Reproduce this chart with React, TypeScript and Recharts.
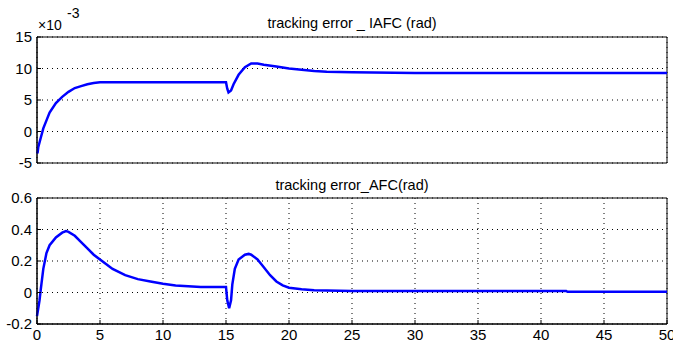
import { LineChart, Line, XAxis, YAxis, CartesianGrid, ReferenceArea } from "recharts";

// time (s) and tracking error of the IAFC controller, in units of 1e-3 rad
const iafcTime = [0, 0.05, 0.1, 0.3, 0.5, 0.8, 1, 1.5, 2, 2.5, 3, 3.5, 4, 4.5, 5, 10, 15, 15.1, 15.2, 15.4, 15.6, 16, 16.5, 17, 17.5, 18, 19, 20, 21, 22, 23, 25, 30, 40, 50];
const iafcError = [-3.5, -3.3, -2.5, -1, 0.5, 2, 3, 4.5, 5.5, 6.3, 6.9, 7.2, 7.5, 7.7, 7.8, 7.8, 7.8, 6.8, 6.2, 6.5, 7.5, 9, 10.2, 10.8, 10.8, 10.6, 10.3, 10, 9.8, 9.6, 9.5, 9.4, 9.3, 9.3, 9.3];

// time (s) and tracking error of the AFC controller, rad
const afcTime = [0, 0.1, 0.2, 0.3, 0.5, 0.75, 1, 1.5, 2, 2.3, 2.5, 3, 3.5, 4, 4.5, 5, 6, 7, 8, 9, 10, 11, 12, 13, 14, 15, 15.1, 15.25, 15.4, 15.5, 15.7, 16, 16.5, 16.8, 17, 17.5, 18, 18.5, 19, 19.5, 20, 21, 22, 25, 30, 42, 42.1, 50];
const afcError = [-0.15, -0.1, -0.05, 0.02, 0.15, 0.25, 0.3, 0.35, 0.38, 0.39, 0.385, 0.36, 0.32, 0.28, 0.24, 0.21, 0.15, 0.11, 0.085, 0.07, 0.055, 0.045, 0.04, 0.035, 0.035, 0.035, -0.05, -0.1, -0.05, 0.05, 0.15, 0.21, 0.24, 0.245, 0.24, 0.21, 0.16, 0.11, 0.07, 0.045, 0.03, 0.02, 0.015, 0.01, 0.01, 0.01, 0.005, 0.005];

const xTicks = [0, 5, 10, 15, 20, 25, 30, 35, 40, 45, 50];
const iafcTicks = [-5, 0, 5, 10, 15];
const afcTicks = [-0.2, 0, 0.2, 0.4, 0.6];

const iafcData = iafcTime.map((t, i) => ({ t, e: iafcError[i] }));
const afcData = afcTime.map((t, i) => ({ t, e: afcError[i] }));

const font = "'Liberation Sans', Arial, sans-serif";
const tickStyle = { fontSize: 15, fill: "#000", fontFamily: font };

export default function App() {
  return (
    <div style={{ position: "absolute", left: 0, top: 0, width: 673, height: 347, background: "#fff", fontFamily: font }}>
      <div style={{ position: "absolute", left: 0, top: 0 }}>
        <LineChart width={673} height={170} data={iafcData} margin={{ top: 37, right: 6, bottom: 7, left: 0 }}>
          <CartesianGrid stroke="#000" strokeDasharray="1 4" />
          <XAxis dataKey="t" type="number" domain={[0, 50]} ticks={xTicks} height={0} tick={false} tickSize={-4} stroke="#000" />
          <XAxis xAxisId="top" orientation="top" dataKey="t" type="number" domain={[0, 50]} ticks={xTicks} height={0} tick={false} tickSize={-4} stroke="#000" />
          <YAxis type="number" domain={[-5, 15]} ticks={iafcTicks} interval={0} width={37} tick={tickStyle} tickSize={-4} tickMargin={9} stroke="#000" />
          <YAxis yAxisId="right" orientation="right" type="number" domain={[-5, 15]} ticks={iafcTicks} width={0} tick={false} tickSize={-4} stroke="#000" />
          <ReferenceArea x1={0} x2={50} y1={-5} y2={15} fill="none" stroke="#000" strokeOpacity={1} ifOverflow="visible" />
          <Line dataKey="e" stroke="#0000ff" strokeWidth={2.5} dot={false} isAnimationActive={false} />
        </LineChart>
      </div>
      <div style={{ position: "absolute", left: 0, top: 15, width: 673, textAlign: "center", paddingLeft: 31, boxSizing: "border-box", fontSize: 14.5 }}>
        tracking error _ IAFC (rad)
      </div>
      <div style={{ position: "absolute", left: 38, top: 17, fontSize: 14 }}>×10</div>
      <div style={{ position: "absolute", left: 67, top: 5, fontSize: 14 }}>-3</div>
      <div style={{ position: "absolute", left: 0, top: 170 }}>
        <LineChart width={673} height={177} data={afcData} margin={{ top: 28, right: 6, bottom: 3, left: 0 }}>
          <CartesianGrid stroke="#000" strokeDasharray="1 4" />
          <XAxis dataKey="t" type="number" domain={[0, 50]} ticks={xTicks} interval={0} height={20} tick={tickStyle} tickSize={-4} tickMargin={9} stroke="#000" />
          <XAxis xAxisId="top" orientation="top" dataKey="t" type="number" domain={[0, 50]} ticks={xTicks} height={0} tick={false} tickSize={-4} stroke="#000" />
          <YAxis type="number" domain={[-0.2, 0.6]} ticks={afcTicks} interval={0} width={37} tick={tickStyle} tickSize={-4} tickMargin={9} stroke="#000" />
          <YAxis yAxisId="right" orientation="right" type="number" domain={[-0.2, 0.6]} ticks={afcTicks} width={0} tick={false} tickSize={-4} stroke="#000" />
          <ReferenceArea x1={0} x2={50} y1={-0.2} y2={0.6} fill="none" stroke="#000" strokeOpacity={1} ifOverflow="visible" />
          <Line dataKey="e" stroke="#0000ff" strokeWidth={2.5} dot={false} isAnimationActive={false} />
        </LineChart>
      </div>
      <div style={{ position: "absolute", left: 0, top: 177, width: 673, textAlign: "center", paddingLeft: 31, boxSizing: "border-box", fontSize: 14.5 }}>
        tracking error_AFC(rad)
      </div>
    </div>
  );
}
